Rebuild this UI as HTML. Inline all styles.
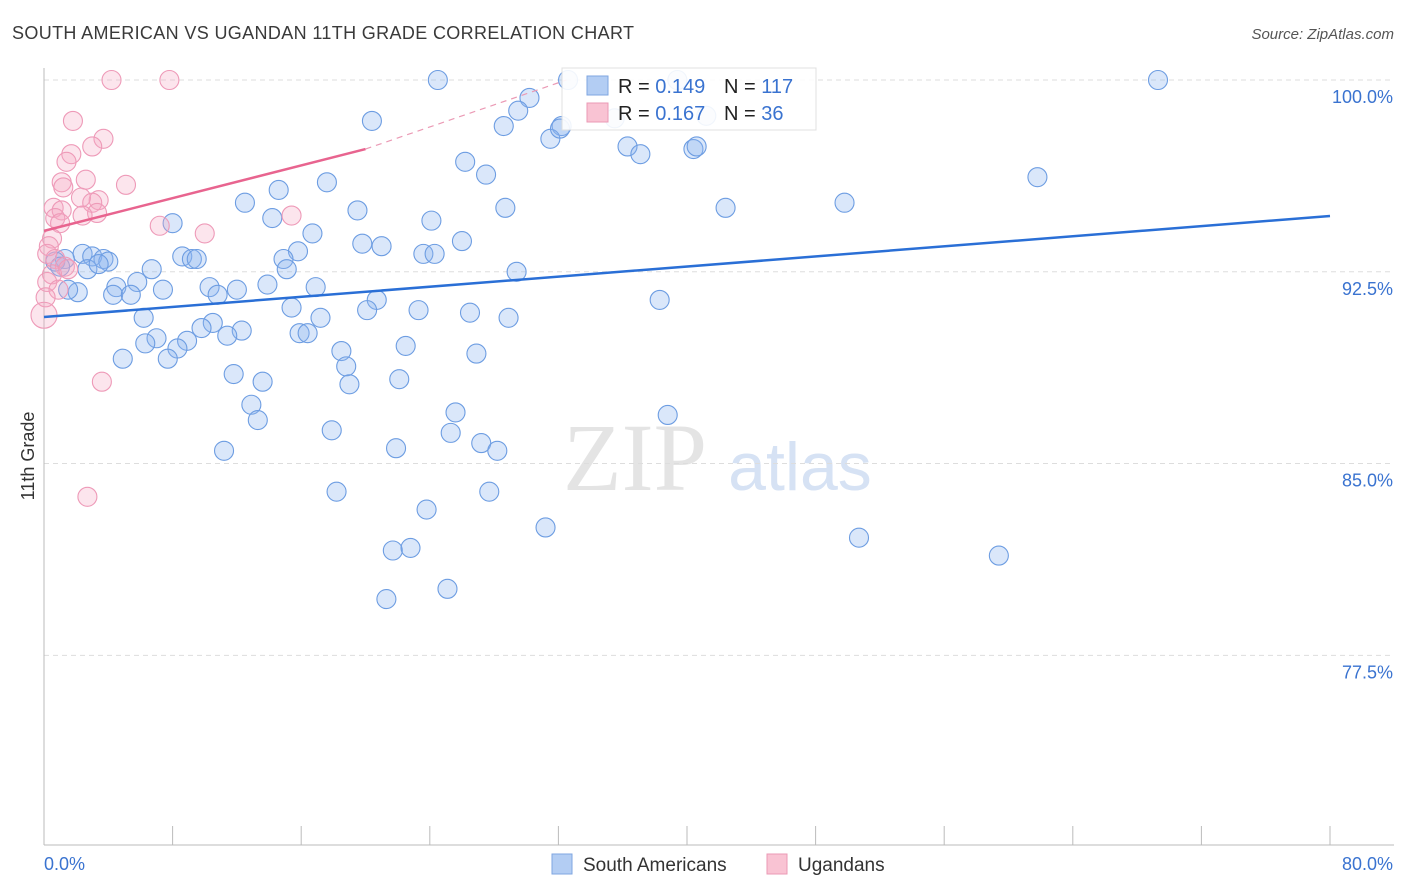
<!DOCTYPE html>
<html><head><meta charset="utf-8"><style>
body{margin:0;background:#fff;font-family:"Liberation Sans",sans-serif}
svg{display:block}
</style></head><body>
<svg id="chart" width="1406" height="892" xmlns="http://www.w3.org/2000/svg">
<text x="12" y="39" font-size="18" fill="#3a3a3a" textLength="622">SOUTH AMERICAN VS UGANDAN 11TH GRADE CORRELATION CHART</text>
<text x="1394" y="39" font-size="15" font-style="italic" fill="#555" text-anchor="end">Source: ZipAtlas.com</text>
<text x="635" y="490" font-size="96" font-family="Liberation Serif,serif" fill="#e4e4e4" text-anchor="middle">ZIP</text>
<text x="800" y="490" font-size="68" fill="#d6e2f4" text-anchor="middle">atlas</text>
<g id="grid"></g>
<g id="axes"></g>
<g id="marks"></g>
<g id="legend-box">
<rect x="562" y="68" width="254" height="62" fill="#fff" stroke="#ddd" opacity="0.9"/>
<rect x="587" y="76" width="21" height="19" fill="#b3cdf3" stroke="#7fa6e0"/>
<rect x="587" y="103" width="21" height="19" fill="#f9c3d3" stroke="#eb9ab5"/>
<text x="618" y="93" font-size="20" fill="#222">R = <tspan fill="#3a73d0">0.149</tspan><tspan x="724">N = </tspan><tspan fill="#3a73d0">117</tspan></text>
<text x="618" y="120" font-size="20" fill="#222">R = <tspan fill="#3a73d0">0.167</tspan><tspan x="724">N = </tspan><tspan fill="#3a73d0"> 36</tspan></text>
</g>
<g>
<rect x="552" y="854" width="20" height="20" fill="#b3cdf3" stroke="#7fa6e0"/>
<text x="583" y="871" font-size="19" fill="#333">South Americans</text>
<rect x="767" y="854" width="20" height="20" fill="#f9c3d3" stroke="#eb9ab5"/>
<text x="798" y="871" font-size="19" fill="#333">Ugandans</text>
</g>
<text transform="translate(34,456) rotate(-90)" font-size="18" fill="#333" text-anchor="middle">11th Grade</text>
</svg>
<script>
const yTicks=[100,92.5,85,77.5];
const yTickLabels=["100.0%","92.5%","85.0%","77.5%"];
const xTicks=[0,8,16,24,32,40,48,56,64,72,80];
const blueX=[24.5,32.6,39.4,69.3,20.4,30.2,29.5,28.6,32.2,31.5,36.3,37.1,40.4,40.6,26.2,27.5,17.6,14.6,12.5,14.2,19.5,28.7,24.1,42.4,49.8,61.8,8.0,16.7,19.8,21.0,26.0,15.8,23.6,24.3,14.9,15.1,8.6,9.2,9.5,2.4,3.0,3.7,4.0,1.3,0.7,1.0,2.7,3.4,6.7,29.4,5.8,4.5,13.9,16.9,10.3,12.0,7.4,4.3,5.4,2.1,1.5,10.8,20.7,15.4,20.1,23.3,26.5,28.9,6.2,17.2,38.3,10.5,9.8,12.3,11.4,15.9,16.4,7.0,8.9,6.3,8.3,22.5,18.5,4.9,7.7,26.9,18.8,11.8,22.1,13.6,19.0,12.9,13.3,25.6,38.8,17.9,25.3,27.2,28.2,21.9,11.2,18.2,27.7,23.8,31.2,50.7,59.4,21.7,22.8,21.3,25.1,35.5,41.2,32.1];
const blueY=[100,100,100,100,98.4,99.3,98.8,98.2,98.2,97.7,97.4,97.1,97.3,97.4,96.8,96.3,96.0,95.7,95.2,94.6,94.9,95.0,94.5,95.0,95.2,96.2,94.4,94.0,93.6,93.5,93.7,93.3,93.2,93.2,93.0,92.6,93.1,93.0,93.0,93.2,93.1,93.0,92.9,93.0,92.9,92.7,92.6,92.8,92.6,92.5,92.1,91.9,92.0,91.9,91.9,91.8,91.8,91.6,91.6,91.7,91.8,91.6,91.4,91.1,91.0,91.0,90.9,90.7,90.7,90.7,91.4,90.5,90.3,90.2,90.0,90.1,90.1,89.9,89.8,89.7,89.5,89.6,89.4,89.1,89.1,89.3,88.8,88.5,88.3,88.2,88.1,87.3,86.7,87.0,86.9,86.3,86.2,85.8,85.5,85.6,85.5,83.9,83.9,83.2,82.5,82.1,81.4,81.6,81.7,79.7,80.1,98.5,98.6,98.1];
const pinkX=[4.2,7.8,1.8,3.7,3.0,1.7,1.4,2.6,5.1,1.1,1.2,3.4,2.3,3.0,0.6,1.1,3.3,2.4,0.7,1.0,15.4,7.2,10.0,0.5,0.3,0.2,0.7,1.3,0.5,0.2,0.9,0.1,0,3.6,2.7,1.5];
const pinkY=[100,100,98.4,97.7,97.4,97.1,96.8,96.1,95.9,96.0,95.8,95.3,95.4,95.2,95.0,94.9,94.8,94.7,94.6,94.4,94.7,94.3,94.0,93.8,93.5,93.2,93.0,92.7,92.4,92.1,91.8,91.5,90.8,88.2,83.7,92.6];
const blueTrend=[[0,90.73],[80,94.68]];
const pinkTrend=[[0,94.1],[20,97.3]];
const pinkTrendExt=[[20,97.3],[32.5,100]];
const NS="http://www.w3.org/2000/svg";
const X=v=>44+v/80*1286;
const Y=v=>80+(100-v)*25.57;
function mk(t,a,p){const e=document.createElementNS(NS,t);for(const k in a)e.setAttribute(k,a[k]);(p||document.getElementById('marks')).appendChild(e);return e;}
const grid=document.getElementById('grid'),axes=document.getElementById('axes');
yTicks.forEach((t,i)=>{
 const l=mk('line',{x1:44,x2:1394,y1:Y(t),y2:Y(t),stroke:'#ddd','stroke-dasharray':'5,4'},grid);
 
 
 const tx=mk('text',{x:1393,y:Y(t)+23,'font-size':18,fill:'#3a73d0','text-anchor':'end'},axes);
 tx.textContent=yTickLabels[i];
 
 
});
const ax=mk('line',{x1:44,x2:1394,y1:845,y2:845,stroke:'#bbb'},axes);


const ay=mk('line',{x1:44,x2:44,y1:68,y2:845,stroke:'#bbb'},axes);


xTicks.forEach(t=>{
 const l=mk('line',{x1:X(t),x2:X(t),y1:826,y2:845,stroke:'#bbb'},axes);
 
 
});
const x0=mk('text',{x:44,y:870,'font-size':18,fill:'#3a73d0'},axes);x0.textContent='0.0%';


const x1=mk('text',{x:1393,y:870,'font-size':18,fill:'#3a73d0','text-anchor':'end'},axes);x1.textContent='80.0%';


blueX.forEach((v,i)=>{
 const c=mk('circle',{cx:X(v),cy:Y(blueY[i]),r:9.5,fill:'rgba(140,180,240,0.32)',stroke:'#6d9de2','stroke-width':1.1});
 
 
});
pinkX.forEach((v,i)=>{
 const c=mk('circle',{cx:X(v),cy:Y(pinkY[i]),r:i==32?13:9.5,fill:'rgba(245,170,195,0.3)',stroke:'#ee9ab8','stroke-width':1.1});
 
 
});
const bt=mk('line',{x1:X(blueTrend[0][0]),y1:Y(blueTrend[0][1]),x2:X(blueTrend[1][0]),y2:Y(blueTrend[1][1]),stroke:'#2a6fd6','stroke-width':2.5});


const pt=mk('line',{x1:X(pinkTrend[0][0]),y1:Y(pinkTrend[0][1]),x2:X(pinkTrend[1][0]),y2:Y(pinkTrend[1][1]),stroke:'#e8648f','stroke-width':2.5});


const pe=mk('line',{x1:X(pinkTrendExt[0][0]),y1:Y(pinkTrendExt[0][1]),x2:X(pinkTrendExt[1][0]),y2:Y(pinkTrendExt[1][1]),stroke:'#eb9ab5','stroke-width':1.2,'stroke-dasharray':'6,5'});


document.getElementById('chart').appendChild(document.getElementById('legend-box'));
</script>
</body></html>
